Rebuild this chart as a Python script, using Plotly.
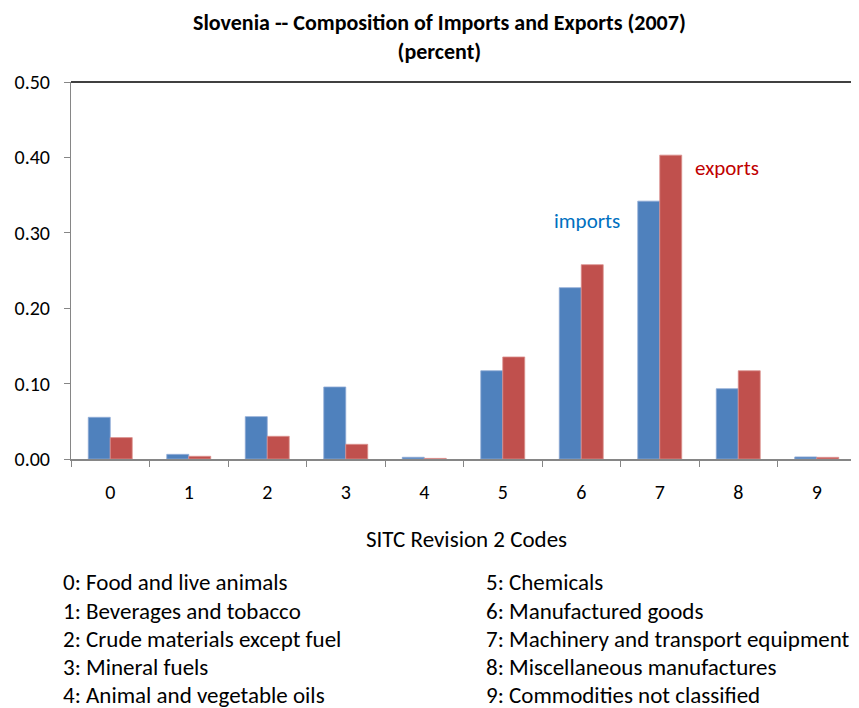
import plotly.graph_objects as go

codes = ["0", "1", "2", "3", "4", "5", "6", "7", "8", "9"]
imports = [0.0553, 0.0062, 0.0562, 0.0955, 0.0023, 0.1170, 0.2272, 0.3420, 0.0932, 0.0027]
exports = [0.0284, 0.0036, 0.0301, 0.0195, 0.0008, 0.1353, 0.2577, 0.4030, 0.1170, 0.0022]

legend_left = [
    "0: Food and live animals",
    "1: Beverages and tobacco",
    "2: Crude materials except fuel",
    "3: Mineral fuels",
    "4: Animal and vegetable oils",
]
legend_right = [
    "5: Chemicals",
    "6: Manufactured goods",
    "7: Machinery and transport equipment",
    "8: Miscellaneous manufactures",
    "9: Commodities not classified",
]

font = "Carlito, Calibri, Lato, sans-serif"

# page has an 8px body margin, so the figure is sized to fit inside it
W, H = 851, 700
L, R, T, B = 63, 3, 74, 249

def px(x):
    return (x - L) / (W - L - R)

def py(y):
    return 1 - (y - T) / (H - T - B)

fig = go.Figure()
fig.add_trace(go.Bar(x=codes, y=imports, name="imports",
                     marker=dict(color="#4F81BD", line=dict(color="#8EA9D6", width=0.8))))
fig.add_trace(go.Bar(x=codes, y=exports, name="exports",
                     marker=dict(color="#C0504D", line=dict(color="#DA8F8D", width=0.8))))

fig.update_layout(
    width=W, height=H,
    margin=dict(l=L, r=R, t=T, b=B),
    paper_bgcolor="white", plot_bgcolor="white",
    barmode="group", bargap=0.44, bargroupgap=0,
    showlegend=False,
    font=dict(family=font, size=20, color="black"),
)
fig.update_yaxes(range=[0, 0.5], dtick=0.1, tickformat=".2f", showgrid=False,
                 showline=True, linecolor="#868686", linewidth=1,
                 ticks="outside", ticklen=6, tickcolor="#868686",
                 ticklabelstandoff=10, tickfont=dict(size=20))
fig.update_xaxes(showgrid=False, showline=True, linecolor="#868686", linewidth=2,
                 ticks="outside", ticklen=6, tickcolor="#868686",
                 tickson="boundaries", ticklabelstandoff=14, tickfont=dict(size=20))

# plot frame: top and right edges
fig.add_shape(type="line", xref="paper", yref="paper", x0=0, x1=1, y0=1, y1=1,
              line=dict(color="black", width=1.5))
fig.add_shape(type="line", xref="paper", yref="paper", x0=1, x1=1, y0=0, y1=1,
              line=dict(color="#595959", width=1.5))

# title
fig.add_annotation(xref="paper", yref="paper", x=px(431), y=py(0),
                   text="<b>Slovenia -- Composition of Imports and Exports (2007)<br>(percent)</b>",
                   showarrow=False, xanchor="center", yanchor="top", align="center",
                   borderpad=0, font=dict(size=22))

# series labels
fig.add_annotation(xref="paper", yref="paper", x=px(579), y=py(213), text="imports",
                   showarrow=False, xanchor="center", yanchor="middle",
                   font=dict(size=21, color="#0070C0"))
fig.add_annotation(xref="paper", yref="paper", x=px(719), y=py(160), text="exports",
                   showarrow=False, xanchor="center", yanchor="middle",
                   font=dict(size=21, color="#C00000"))

# axis title
fig.add_annotation(xref="paper", yref="paper", x=px(458), y=py(531),
                   text="SITC Revision 2 Codes", showarrow=False,
                   xanchor="center", yanchor="middle", font=dict(size=23))

# code key below the chart
for i, (a, b) in enumerate(zip(legend_left, legend_right)):
    yy = py(574.4 + i * 28.2)
    fig.add_annotation(xref="paper", yref="paper", x=px(53), y=yy, text=a,
                       showarrow=False, xanchor="left", yanchor="middle",
                       font=dict(size=23))
    fig.add_annotation(xref="paper", yref="paper", x=px(476), y=yy, text=b,
                       showarrow=False, xanchor="left", yanchor="middle",
                       font=dict(size=23))

fig.write_html("out.html")
